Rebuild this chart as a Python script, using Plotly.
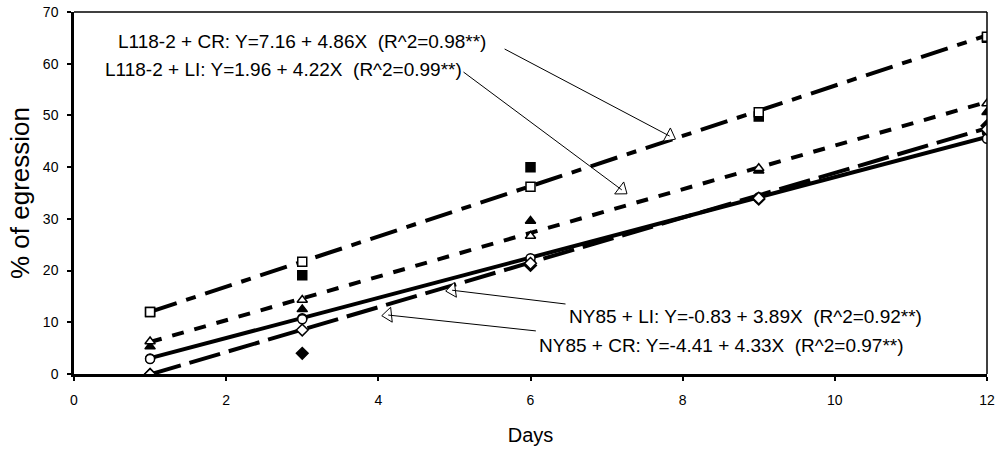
import plotly.graph_objects as go

# ---- data ----
days = [1, 3, 6, 9, 12]

l118_cr_open = [12.0, 21.7, 36.2, 50.6, 65.2]
l118_cr_fill = [12.0, 19.1, 40.0, 49.8, 65.0]
l118_li_open = [6.3, 14.3, 26.7, 39.8, 52.3]
l118_li_fill = [5.3, 12.5, 29.6, 39.3, 50.6]
ny85_li_open = [2.9, 10.6, 22.4, 34.0, 45.5]
ny85_li_fill = [3.0, 10.8, 21.6, 34.2, 46.7]
ny85_cr_open = [-0.1, 8.5, 21.4, 34.0, 47.3]
ny85_cr_fill = [-0.1, 4.0, 21.0, 33.8, 48.0]

# regression lines (intercept, slope) as printed on the chart
line_names = ["L118-2 + CR", "L118-2 + LI", "NY85 + LI", "NY85 + CR"]
intercepts = [7.16, 1.96, -0.83, -4.41]
slopes = [4.86, 4.22, 3.89, 4.33]
r2 = ["0.98", "0.99", "0.92", "0.97"]
line_x = [1, 12]

x_ticks = [0, 2, 4, 6, 8, 10, 12]
y_ticks = [0, 10, 20, 30, 40, 50, 60, 70]

FONT = "Liberation Sans, Arial, sans-serif"

fig = go.Figure()

dash_styles = ["28px,10px,10px,10px", "12px,11px", "solid", "32px,9px"]
for name, a, b, d in zip(line_names, intercepts, slopes, dash_styles):
    fig.add_trace(go.Scatter(
        x=line_x, y=[a + b * xv for xv in line_x], mode="lines",
        line=dict(color="black", width=4, dash=d), name=name,
        hoverinfo="skip", showlegend=False))

marker_series = [
    (l118_cr_fill, "square", "black"),
    (l118_li_fill, "triangle-up", "black"),
    (ny85_li_fill, "circle", "black"),
    (ny85_cr_fill, "diamond", "black"),
    (l118_cr_open, "square", "white"),
    (l118_li_open, "triangle-up", "white"),
    (ny85_li_open, "circle", "white"),
    (ny85_cr_open, "diamond", "white"),
]
for ys, sym, fill in marker_series:
    fig.add_trace(go.Scatter(
        x=days, y=ys, mode="markers",
        marker=dict(symbol=sym, size=9, color=fill,
                    line=dict(color="black", width=1.5)),
        showlegend=False))

# annotations: text label, text anchor, arrow tail, arrow tip
labels = [f"{n}: Y={a:.2f} + {b:.2f}X  (R^2={r}**)"
          for n, a, b, r in zip(line_names, intercepts, slopes, r2)]
text_pos = [(0.55, 64.2), (0.38, 58.8), (6.48, 11.2), (6.09, 5.6)]
tails = [(5.64, 63.0), (5.10, 58.6), (6.48, 13.5), (6.09, 8.3)]
tips = [(7.83, 46.0), (7.20, 35.6), (4.97, 16.2), (4.13, 11.4)]
head_angles = [118, 127, 262, 264]

for lab, (tx, ty), (ax, ay), (hx, hy) in zip(labels, text_pos, tails, tips):
    fig.add_annotation(x=tx, y=ty, text=lab, showarrow=False,
                       xanchor="left", yanchor="middle",
                       font=dict(family=FONT, size=19, color="black"))
    fig.add_annotation(x=hx, y=hy, ax=ax, ay=ay, xref="x", yref="y",
                       axref="x", ayref="y", text="", showarrow=True,
                       arrowhead=0, arrowwidth=1, arrowcolor="black")

fig.add_trace(go.Scatter(
    x=[t[0] for t in tips], y=[t[1] for t in tips], mode="markers",
    marker=dict(symbol="triangle-up", size=13, color="white",
                angle=head_angles, line=dict(color="black", width=1)),
    showlegend=False, hoverinfo="skip"))

# thin frame on top and right
fig.add_shape(type="line", xref="paper", yref="paper", x0=0, x1=1, y0=1, y1=1,
              line=dict(color="black", width=1.5))
fig.add_shape(type="line", xref="paper", yref="paper", x0=1, x1=1, y0=0, y1=1,
              line=dict(color="black", width=1.5))

fig.update_layout(
    width=1005, height=451,
    margin=dict(l=74, r=18, t=12, b=77),
    plot_bgcolor="white", paper_bgcolor="white",
    showlegend=False,
    font=dict(family=FONT, color="black"),
    xaxis=dict(range=[0, 12], tickvals=x_ticks, ticks="outside", ticklen=4,
               tickwidth=1.5, tickcolor="black", showgrid=False, zeroline=False,
               showline=True, linecolor="black", linewidth=2.5, automargin=False,
               ticklabelstandoff=7, ticklabeloverflow="allow",
               tickfont=dict(size=14, family=FONT),
               title=dict(text="Days", font=dict(size=20, family=FONT), standoff=22)),
    yaxis=dict(range=[0, 70], tickvals=y_ticks, ticks="outside", ticklen=4,
               tickwidth=1.5, tickcolor="black", showgrid=False, zeroline=False,
               showline=True, linecolor="black", linewidth=2.5, automargin=False,
               ticklabelstandoff=6, ticklabeloverflow="allow",
               tickfont=dict(size=14, family=FONT),
               title=dict(text="% of egression", font=dict(size=26, family=FONT), standoff=6)),
)

fig.write_html("out.html",
               config={"displayModeBar": False},
               post_script="document.body.style.margin='0';document.body.style.overflow='hidden';")
